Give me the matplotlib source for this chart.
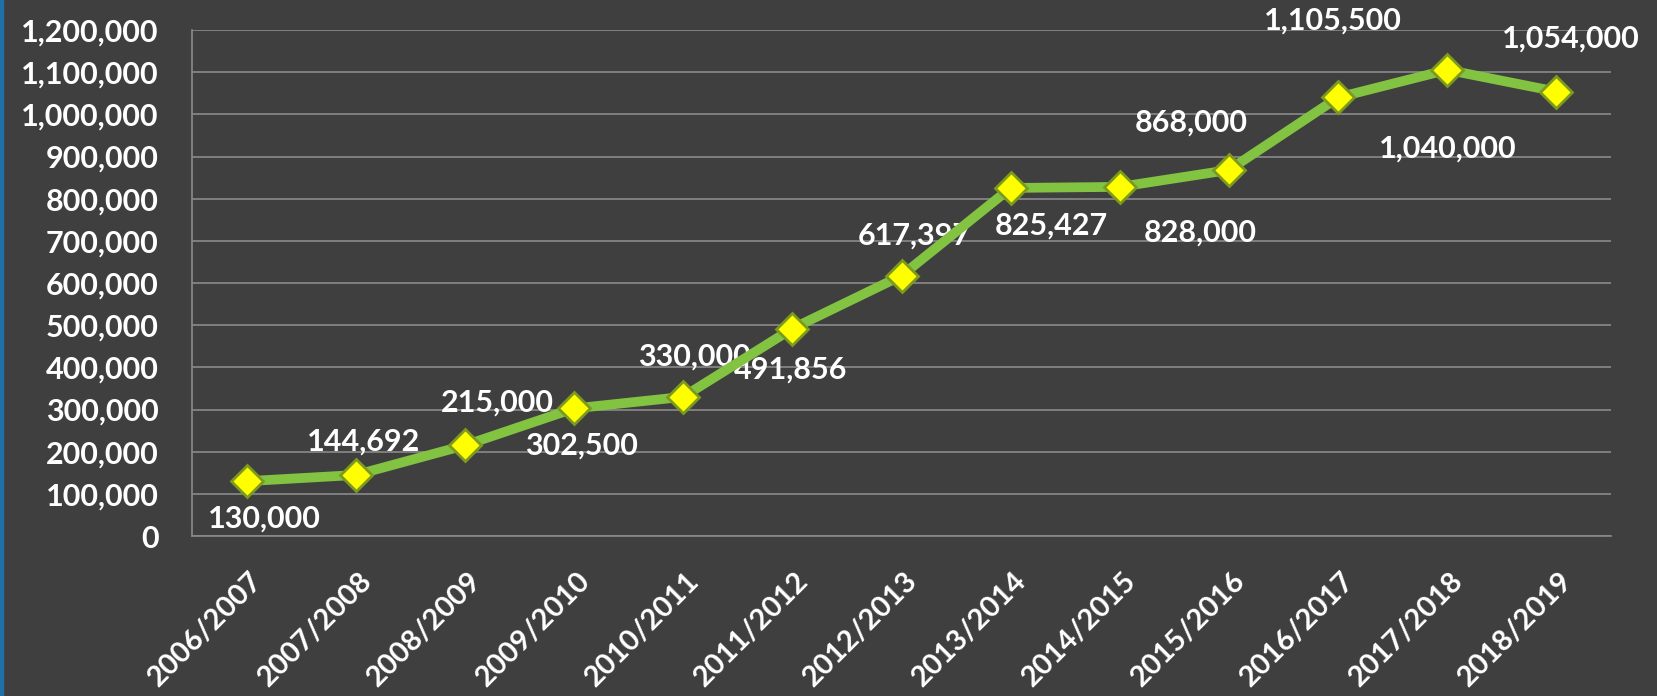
import matplotlib
matplotlib.use("Agg")
import matplotlib.pyplot as plt
import matplotlib.transforms as mtransforms
from matplotlib.ticker import FuncFormatter

# Data
seasons = ["2006/2007", "2007/2008", "2008/2009", "2009/2010", "2010/2011",
           "2011/2012", "2012/2013", "2013/2014", "2014/2015", "2015/2016",
           "2016/2017", "2017/2018", "2018/2019"]
values = [130000, 144692, 215000, 302500, 330000, 491856, 617397,
          825427, 828000, 868000, 1040000, 1105500, 1054000]
# data labels as printed next to each point in the source
point_labels = ["130,000", "144,692", "215,000", "302,500", "330,000",
                "491,856", "617,397", "825,427", "828,000", "868,000",
                "1,105,500", "1,040,000", "1,054,000"]
# label offsets from the point, in pixels (dx right, dy up)
label_dx = [18, 8, 32, 7, 11, -2, 13, 41, 80, -38, -5, 0, 14]
label_dy = [-37, 33, 43, -37, 40, -41, 40, -38, -46, 47, 77, -79, 53]

bg = "#3f3f3f"
plt.rcParams["font.family"] = ["Lato", "DejaVu Sans"]
plt.rcParams["font.weight"] = "bold"

fig = plt.figure(figsize=(16.58, 6.96), dpi=100, facecolor=bg)
ax = fig.add_axes([192 / 1658, 1 - 536 / 696, (1611 - 192) / 1658, (536 - 30) / 696])
ax.set_facecolor(bg)

x = list(range(len(seasons)))
ax.plot(x, values, color="#82c341", lw=7, zorder=3, solid_joinstyle="round")
ax.plot(x, values, ls="none", marker="D", markersize=16,
        markerfacecolor="#ffff00", markeredgecolor="#7b9a1e", markeredgewidth=2,
        zorder=4)

px = 72 / fig.dpi
for xi, v, lab, dx, dy in zip(x, values, point_labels, label_dx, label_dy):
    ax.annotate(lab, (xi, v), xytext=(dx * px, dy * px), textcoords="offset points",
                ha="center", va="center", color="white", fontsize=22,
                fontweight="bold", zorder=2, annotation_clip=False)

ax.set_xlim(-0.5, len(seasons) - 0.5)
ax.set_ylim(0, 1200000)
ax.set_yticks(range(0, 1200001, 100000))
ax.yaxis.set_major_formatter(FuncFormatter(lambda v, p: f"{int(v):,}"))
ax.grid(axis="y", color="#8a8a8a", lw=1.2, zorder=0)
ax.set_axisbelow(True)

for s in ["top", "right"]:
    ax.spines[s].set_visible(False)
ax.spines["left"].set_color("#8a8a8a")
ax.spines["bottom"].set_color("#8a8a8a")
ax.spines["left"].set_linewidth(1.2)
ax.spines["bottom"].set_linewidth(1.2)

ax.tick_params(axis="y", length=0, pad=24, labelcolor="white", labelsize=22)
ax.tick_params(axis="x", length=0, pad=29, labelcolor="white", labelsize=21)

ax.set_xticks(x)
ax.set_xticklabels(seasons, rotation=45, ha="right", va="center",
                   rotation_mode="anchor")
shift = mtransforms.ScaledTranslation(12 / fig.dpi, 0, fig.dpi_scale_trans)
for t in ax.get_xticklabels():
    t.set_transform(t.get_transform() + shift)

# blue stripe at the left edge of the slide
fig.patches.append(plt.Rectangle((0, 0), 3 / 1658, 1, transform=fig.transFigure,
                                 color="#1f6fa8", zorder=10))

fig.savefig("out.png", dpi=100, facecolor=bg)
